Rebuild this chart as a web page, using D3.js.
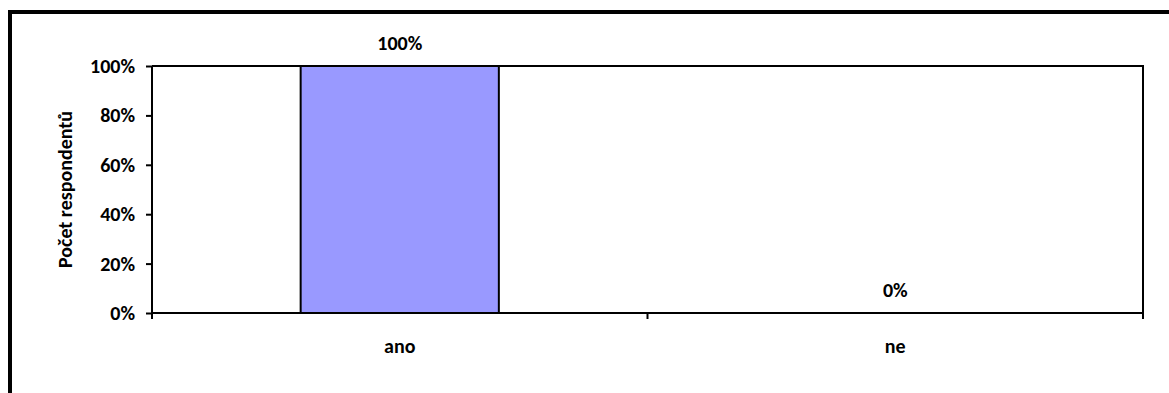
<!DOCTYPE html>
<html>
<head>
<meta charset="utf-8">
<script src="https://cdn.jsdelivr.net/npm/d3@7"></script>
<style>
  html, body { margin: 0; padding: 0; background: #fff; }
  svg text { font-family: Carlito, Lato, "Open Sans", sans-serif; font-weight: bold; fill: #000; }
</style>
</head>
<body>
<svg id="chart" width="1169" height="393"></svg>
<script>
const categories = ["ano", "ne"];
const values = [1.0, 0.0];
const dataLabels = ["100%", "0%"];
const yTicks = [0, 0.2, 0.4, 0.6, 0.8, 1.0];
const yTitle = "Počet respondentů";

const svg = d3.select("#chart");
const W = 1169, H = 393;
const m = { left: 152, right: 1143, top: 66, bottom: 313 };
const fs = 20;

// outer frame
svg.append("rect")
  .attr("x", 10).attr("y", 12)
  .attr("width", W + 20).attr("height", H + 20)
  .attr("fill", "none").attr("stroke", "#000").attr("stroke-width", 4);

const x = d3.scaleBand().domain(categories).range([m.left, m.right]).paddingInner(0).paddingOuter(0);
const y = d3.scaleLinear().domain([0, 1]).range([m.bottom, m.top]);

const barW = x.bandwidth() * 0.4;

// plot area border (top/right)
svg.append("path")
  .attr("d", `M${m.left},${m.top}H${m.right}V${m.bottom}`)
  .attr("fill", "none").attr("stroke", "#000").attr("stroke-width", 2);

// bars
svg.selectAll("rect.bar").data(categories).enter().append("rect")
  .attr("class", "bar")
  .attr("x", d => x(d) + (x.bandwidth() - barW) / 2)
  .attr("y", (d, i) => y(values[i]))
  .attr("width", barW)
  .attr("height", (d, i) => y(0) - y(values[i]))
  .attr("fill", "#9999FF").attr("stroke", "#000").attr("stroke-width", 2);

// y axis
const yAxis = d3.axisLeft(y).tickValues(yTicks).tickFormat(d3.format(".0%")).tickSize(6).tickPadding(11);
const gy = svg.append("g").attr("transform", `translate(${m.left},0)`).call(yAxis);
gy.select(".domain").attr("stroke", "#000").attr("stroke-width", 2).attr("d", `M0,${m.top}V${m.bottom}`);
gy.selectAll(".tick line").attr("stroke", "#000").attr("stroke-width", 2);
gy.selectAll(".tick text").style("font-size", fs + "px").attr("font-family", null);

// x axis
const gx = svg.append("g").attr("transform", `translate(0,${m.bottom})`);
gx.append("line").attr("x1", m.left).attr("x2", m.right).attr("stroke", "#000").attr("stroke-width", 2);
const bounds = categories.map(c => x(c)).concat([x(categories[categories.length - 1]) + x.bandwidth()]);
gx.selectAll("line.tk").data(bounds).enter().append("line")
  .attr("class", "tk")
  .attr("x1", d => d).attr("x2", d => d).attr("y1", 0).attr("y2", 6)
  .attr("stroke", "#000").attr("stroke-width", 2);
gx.selectAll("text").data(categories).enter().append("text")
  .attr("x", d => x(d) + x.bandwidth() / 2)
  .attr("y", 33)
  .attr("dy", "0.35em")
  .attr("text-anchor", "middle")
  .style("font-size", fs + "px")
  .text(d => d);

// data labels
svg.selectAll("text.dl").data(categories).enter().append("text")
  .attr("class", "dl")
  .attr("x", d => x(d) + x.bandwidth() / 2)
  .attr("y", (d, i) => y(values[i]) - 23)
  .attr("dy", "0.35em")
  .attr("text-anchor", "middle")
  .style("font-size", fs + "px")
  .text((d, i) => dataLabels[i]);

// y title
svg.append("text")
  .attr("transform", `translate(65,${(m.top + m.bottom) / 2}) rotate(-90)`)
  .attr("dy", "0.35em")
  .attr("text-anchor", "middle")
  .style("font-size", fs + "px")
  .text(yTitle);
</script>
</body>
</html>
